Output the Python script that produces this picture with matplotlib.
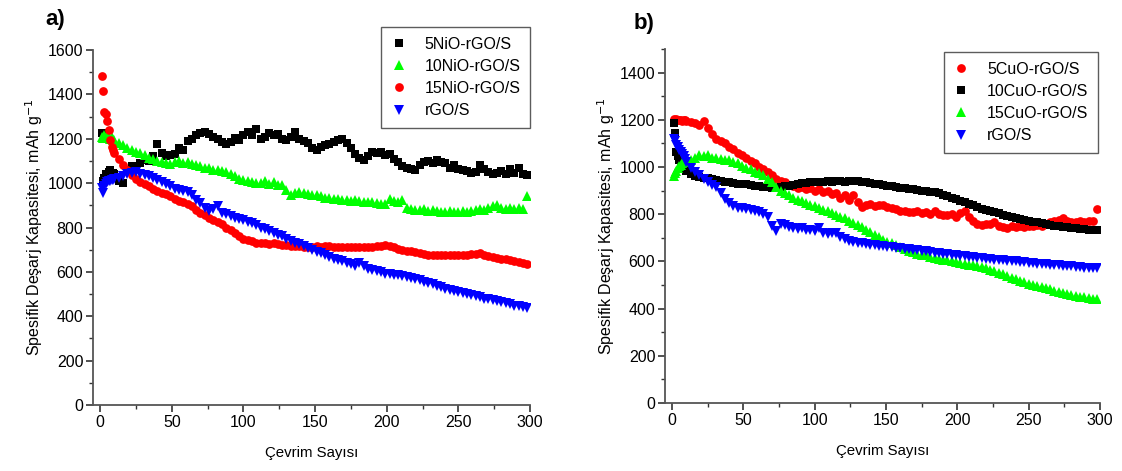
import numpy as np
import matplotlib
matplotlib.use("Agg")
import matplotlib.pyplot as plt
from matplotlib.ticker import MultipleLocator

plt.rcParams['font.family'] = ['Liberation Sans', 'DejaVu Sans']

# cycle numbers at which values were read
cycles = np.r_[1:11, 13:299:3]

# ---- panel a) ----
labels_a = ["5NiO-rGO/S", "10NiO-rGO/S", "15NiO-rGO/S", "rGO/S"]
nio5 = [1225, 1010, 1025, 1040, 1030, 1050, 1060, 1030, 1045, 1040,
        1010, 1000, 1060, 1075, 1070, 1090, 1105, 1100, 1120, 1175,
        1135, 1120, 1125, 1130, 1160, 1150, 1190, 1200, 1215, 1225,
        1230, 1220, 1210, 1200, 1185, 1175, 1185, 1205, 1195, 1215,
        1230, 1215, 1245, 1200, 1210, 1225, 1215, 1220, 1200, 1195,
        1210, 1230, 1200, 1190, 1180, 1160, 1150, 1165, 1170, 1175,
        1185, 1195, 1200, 1180, 1160, 1130, 1115, 1105, 1120, 1140,
        1135, 1140, 1125, 1130, 1110, 1095, 1075, 1070, 1065, 1060,
        1080, 1095, 1100, 1090, 1105, 1095, 1090, 1070, 1080, 1065,
        1060, 1055, 1045, 1050, 1080, 1065, 1050, 1040, 1045, 1055,
        1040, 1065, 1045, 1070, 1040, 1035]
nio10 = [1210, 1205, 1215, 1210, 1215, 1205, 1200, 1210, 1195, 1195,
         1180, 1170, 1160, 1150, 1140, 1135, 1125, 1115, 1110, 1100,
         1095, 1090, 1085, 1095, 1100, 1090, 1095, 1085, 1080, 1075,
         1070, 1070, 1060, 1060, 1055, 1050, 1040, 1030, 1020, 1015,
         1010, 1005, 1000, 1000, 1010, 995, 1005, 990, 990, 970,
         945, 955, 960, 955, 950, 945, 945, 940, 935, 935,
         930, 930, 925, 925, 920, 925, 920, 915, 915, 915,
         910, 905, 905, 930, 920, 915, 925, 890, 885, 880,
         880, 885, 875, 880, 875, 870, 870, 875, 870, 870,
         875, 870, 875, 880, 885, 880, 890, 895, 900, 890,
         885, 890, 885, 890, 885, 940]
nio15 = [1485, 1415, 1320, 1310, 1280, 1240, 1195, 1165, 1150, 1135,
         1110, 1080, 1060, 1035, 1020, 1005, 995, 985, 975, 965,
         955, 950, 940, 930, 920, 915, 905, 895, 880, 865,
         855, 845, 835, 825, 815, 800, 790, 775, 760, 750,
         745, 740, 730, 730, 728, 725, 728, 725, 722, 720,
         718, 715, 716, 712, 714, 712, 715, 714, 716, 715,
         712, 714, 712, 713, 711, 714, 712, 713, 712, 714,
         715, 718, 720, 716, 710, 705, 700, 695, 692, 688,
         685, 682, 678, 676, 675, 674, 675, 674, 675, 674,
         676, 678, 680, 682, 684, 678, 672, 668, 664, 660,
         656, 652, 648, 645, 640, 637]
rgo_a = [980, 955, 985, 995, 1005, 1010, 1010, 1015, 1015, 1020,
         1025, 1030, 1040, 1045, 1050, 1040, 1035, 1030, 1025, 1015,
         1005, 995, 985, 975, 970, 965, 960, 945, 925, 910,
         890, 875, 885, 895, 865, 860, 850, 845, 840, 832,
         825, 820, 810, 800, 795, 785, 775, 768, 760, 748,
         740, 732, 725, 717, 708, 700, 690, 683, 675, 667,
         660, 654, 648, 642, 636, 628, 642, 625, 615, 608,
         602, 598, 592, 590, 586, 584, 580, 576, 572, 568,
         562, 556, 550, 544, 538, 530, 524, 518, 514, 508,
         504, 500, 494, 490, 485, 480, 476, 472, 467, 462,
         458, 453, 448, 444, 440, 436]

# ---- panel b) ----
labels_b = ["5CuO-rGO/S", "10CuO-rGO/S", "15CuO-rGO/S", "rGO/S"]
cuo5 = [1205, 1200, 1205, 1200, 1198, 1200, 1195, 1198, 1200, 1195,
        1192, 1188, 1180, 1195, 1165, 1140, 1120, 1110, 1100, 1085,
        1075, 1060, 1050, 1040, 1025, 1015, 1000, 990, 978, 965,
        950, 940, 935, 925, 920, 910, 915, 905, 910, 900,
        905, 895, 900, 885, 890, 870, 880, 860, 880, 850,
        830, 840, 845, 835, 840, 838, 830, 825, 820, 815,
        815, 810, 808, 815, 805, 810, 800, 815, 800, 795,
        795, 800, 790, 805, 815, 790, 770, 760, 755, 758,
        760, 765, 750, 745, 742, 748, 745, 750, 745, 748,
        750, 755, 752, 760, 765, 770, 775, 785, 770, 765,
        768, 770, 765, 770, 772, 820]
cuo10 = [1188, 1145, 1065, 1045, 1030, 1020, 1015, 1005, 995, 985,
         972, 962, 958, 955, 952, 948, 944, 940, 938, 935,
         933, 930, 928, 926, 922, 920, 918, 917, 914, 912,
         911, 915, 918, 920, 925, 930, 932, 934, 936, 935,
         938, 936, 940, 938, 942, 940, 938, 940, 942, 940,
         938, 935, 932, 930, 928, 925, 920, 918, 915, 912,
         910, 908, 905, 902, 900, 898, 895, 892, 888, 882,
         876, 870, 864, 858, 850, 845, 838, 830, 824, 818,
         812, 808, 803, 798, 792, 787, 782, 778, 774, 770,
         768, 765, 762, 760, 756, 752, 749, 746, 744, 741,
         740, 738, 736, 735, 734, 733]
cuo15 = [960, 975, 985, 995, 1005, 1010, 1015, 1020, 1022, 1025,
         1030, 1040, 1050, 1045, 1050, 1040, 1038, 1035, 1030, 1028,
         1020, 1015, 1005, 995, 990, 980, 975, 965, 950, 935,
         915, 900, 890, 880, 870, 862, 855, 848, 840, 833,
         825, 818, 812, 805, 798, 790, 782, 772, 764, 755,
         745, 735, 725, 712, 702, 692, 684, 676, 668, 660,
         652, 645, 638, 632, 626, 632, 620, 616, 612, 608,
         604, 600, 596, 593, 590, 586, 583, 579, 575, 570,
         565, 558, 552, 545, 538, 531, 525, 518, 512, 506,
         501, 496, 491, 486, 481, 476, 471, 467, 463, 459,
         455, 451, 448, 445, 442, 440]
rgo_b = [1118, 1110, 1095, 1085, 1072, 1065, 1055, 1045, 1035, 1020,
         995, 978, 965, 950, 935, 925, 915, 890, 865, 848,
         835, 828, 826, 822, 818, 812, 808, 800, 790, 752,
         730, 760, 755, 745, 742, 738, 740, 735, 732, 728,
         740, 722, 718, 720, 722, 705, 695, 688, 684, 680,
         676, 673, 670, 668, 666, 664, 662, 660, 658, 656,
         654, 652, 650, 648, 645, 642, 640, 637, 635, 632,
         630, 628, 626, 624, 622, 620, 618, 616, 614, 612,
         610, 608, 606, 605, 603, 601, 600, 598, 596, 594,
         592, 590, 589, 587, 586, 584, 583, 581, 580, 579,
         577, 576, 574, 573, 571, 570]

W, H = 1122, 471
fig = plt.figure(figsize=(W / 100, H / 100), dpi=100)

def px_axes(x0, x1, y0, y1):
    return fig.add_axes([x0 / W, 1 - y1 / H, (x1 - x0) / W, (y1 - y0) / H])

axA = px_axes(93, 530, 50, 405)
axB = px_axes(665, 1100, 49, 403)

styles = {
    "black_sq": dict(marker="s", color="black", ms=5.6),
    "green_tri": dict(marker="^", color="#00ff00", ms=6.8),
    "red_circ": dict(marker="o", color="#ff0000", ms=6.3),
    "blue_tri": dict(marker="v", color="#0000ff", ms=6.8),
}

seriesA = [(nio5, "black_sq"), (nio10, "green_tri"), (nio15, "red_circ"), (rgo_a, "blue_tri")]
seriesB = [(cuo5, "red_circ"), (cuo10, "black_sq"), (cuo15, "green_tri"), (rgo_b, "blue_tri")]

for ax, series, labels in [(axA, seriesA, labels_a), (axB, seriesB, labels_b)]:
    for (vals, st), lab in zip(series, labels):
        s = styles[st]
        ax.plot(cycles, vals, linestyle="none", marker=s["marker"], color=s["color"],
                markersize=s["ms"], markeredgewidth=0, label=lab)

def style_axes(ax, ymax):
    ax.set_xlim(-5, 300)
    ax.set_ylim(0, ymax)
    for side in ("top", "right"):
        ax.spines[side].set_visible(False)
    for side in ("left", "bottom"):
        ax.spines[side].set_color("#555555")
        ax.spines[side].set_linewidth(1.3)
    ax.xaxis.set_major_locator(MultipleLocator(50))
    ax.xaxis.set_minor_locator(MultipleLocator(25))
    ax.yaxis.set_major_locator(MultipleLocator(200))
    ax.yaxis.set_minor_locator(MultipleLocator(100))
    ax.tick_params(which="major", direction="out", length=5, width=1.2,
                   color="#333333", labelsize=11.5, pad=2)
    ax.tick_params(which="minor", direction="out", length=3, width=1.0, color="#333333")
    ax.set_xlabel("Çevrim Sayısı", fontsize=10.8, labelpad=12)
    ax.set_ylabel("Spesifik Deşarj Kapasitesi, mAh g$^{-1}$", fontsize=11.5, labelpad=2)

style_axes(axA, 1600)
style_axes(axB, 1500)

common = dict(bbox_transform=fig.transFigure, fontsize=11.5, frameon=True,
              fancybox=False, edgecolor="#333333", handlelength=1.0,
              handletextpad=1.1, labelspacing=0.45, borderpad=0.6,
              borderaxespad=0, markerscale=1.0)
legA = axA.legend(loc="upper right", bbox_to_anchor=(530 / W, 1 - 27 / H), **common)
legB = axB.legend(loc="upper right", bbox_to_anchor=(1098 / W, 1 - 52 / H), **common)
for leg in (legA, legB):
    leg.get_frame().set_linewidth(1.0)

fig.text(55 / W, 1 - 20 / H, "a)", fontsize=16, fontweight="bold", ha="center", va="center")
fig.text(644 / W, 1 - 23 / H, "b)", fontsize=16, fontweight="bold", ha="center", va="center")

fig.savefig("out.png", dpi=100)
